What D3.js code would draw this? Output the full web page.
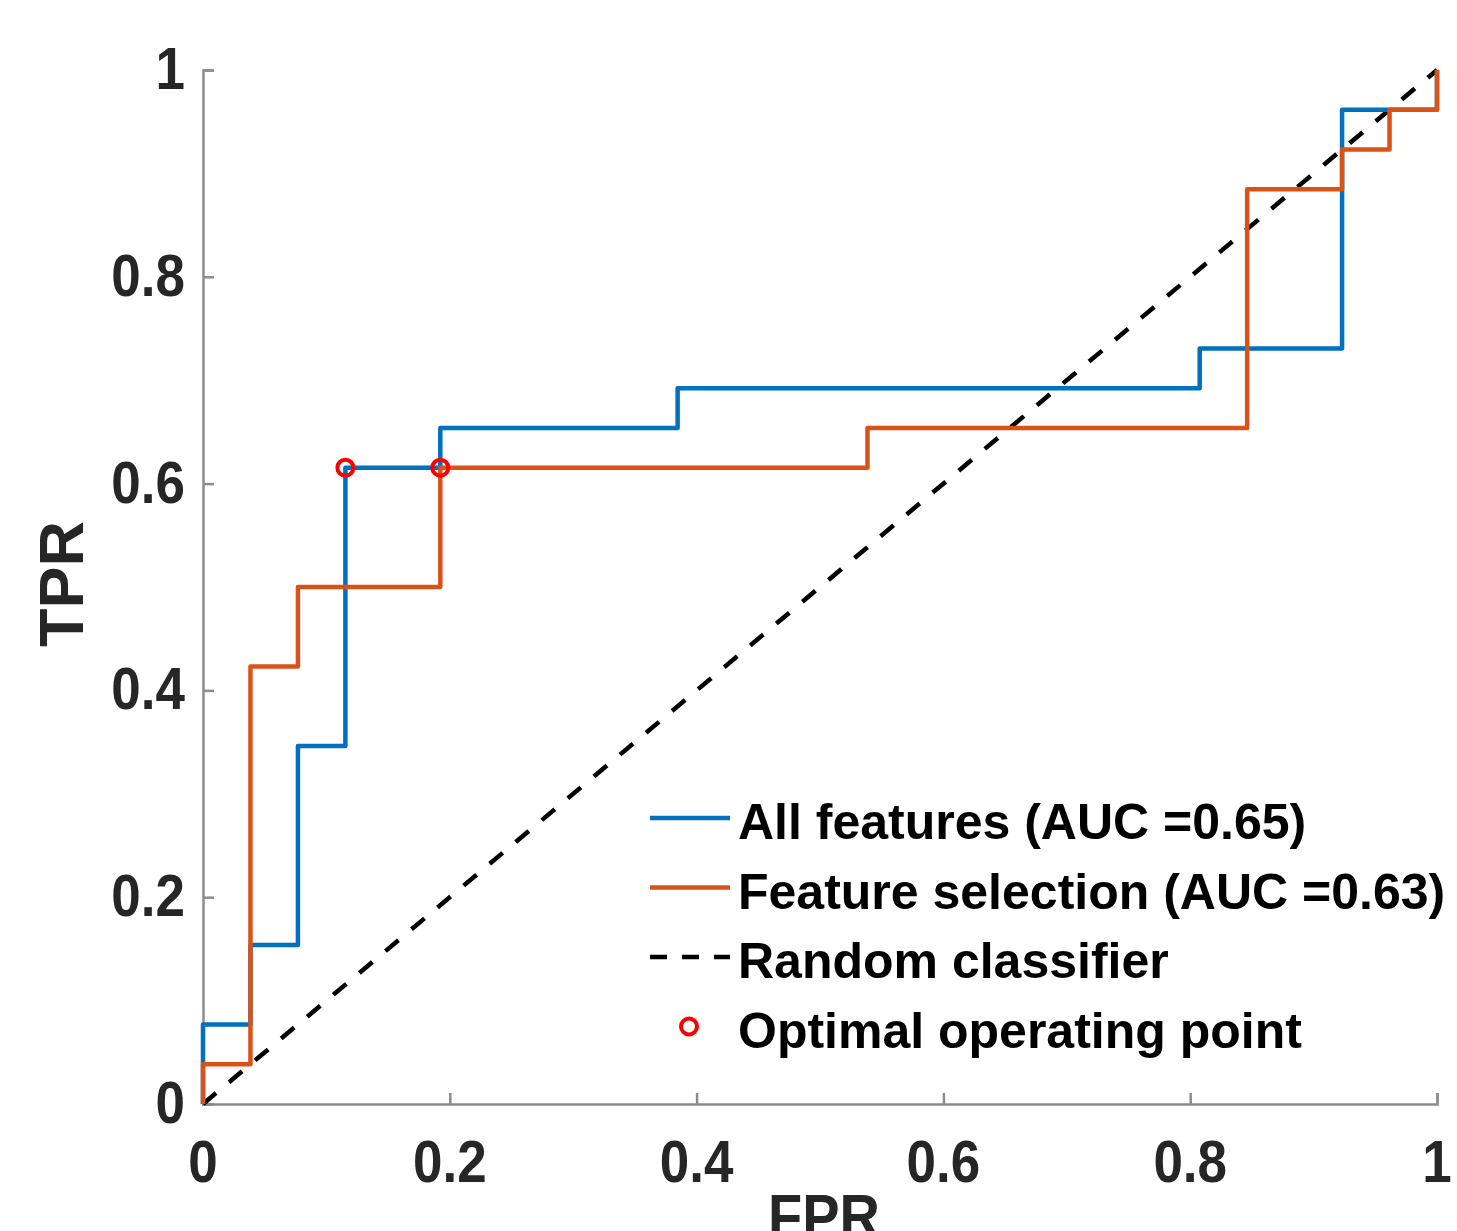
<!DOCTYPE html>
<html><head><meta charset="utf-8">
<script src="https://cdn.jsdelivr.net/npm/d3@7"></script>
<style>html,body{margin:0;padding:0;background:#fff;}svg{display:block;font-family:"Liberation Sans",Arial,sans-serif;font-weight:bold;}</style>
</head><body><svg id="c" width="1457" height="1231"></svg>
<script>
const N = 26;
// ROC step vertices in units of 1/26 (FPR, TPR)
const allFeatFPR = [0,0,1,1,2,2,3,3,5,5,10,10,21,21,24,24,26,26];
const allFeatTPR = [0,2,2,4,4,9,9,16,16,17,17,18,18,19,19,25,25,26];
const selFPR = [0,0,1,1,2,2,5,5,14,14,22,22,24,24,25,25,26,26];
const selTPR = [0,1,1,11,11,13,13,16,16,17,17,23,23,24,24,25,25,26];
const optFPR = [3,5];
const optTPR = [16,16];
const xTicks = [0,0.2,0.4,0.6,0.8,1];
const yTicks = [0,0.2,0.4,0.6,0.8,1];
const tickLabels = ["0","0.2","0.4","0.6","0.8","1"];
const legendLabels = ["All features (AUC =0.65)","Feature selection (AUC =0.63)","Random classifier","Optimal operating point"];

const svg = d3.select("#c");
const x = d3.scaleLinear().domain([0,1]).range([203,1437]);
const y = d3.scaleLinear().domain([0,1]).range([1104,70]);
const axisCol = "#8c8c8c", txtCol = "#262626";

// axes
const gx = svg.append("g").attr("transform","translate(0,1104)")
  .call(d3.axisBottom(x).tickValues(xTicks).tickSize(-11).tickFormat(""));
const gy = svg.append("g").attr("transform","translate(203,0)")
  .call(d3.axisLeft(y).tickValues(yTicks).tickSize(-11).tickFormat(""));
[gx,gy].forEach(g=>{g.selectAll("path,line").attr("stroke",axisCol).attr("stroke-width",2.5);});

xTicks.forEach((t,i)=>{
  svg.append("text").attr("transform",`translate(${x(t)},1182) scale(1,1.12)`)
    .attr("text-anchor","middle").attr("font-size",53).attr("fill",txtCol).text(tickLabels[i]);
});
yTicks.forEach((t,i)=>{
  svg.append("text").attr("transform",`translate(185,${y(t)+19}) scale(1,1.12)`)
    .attr("text-anchor","end").attr("font-size",53).attr("fill",txtCol).text(tickLabels[i]);
});
svg.append("text").attr("transform","translate(824,1238) scale(1,1.12)").attr("text-anchor","middle")
  .attr("font-size",56).attr("fill",txtCol).text("FPR");
svg.append("text").attr("transform","translate(83,584) rotate(-90)").attr("text-anchor","middle")
  .attr("font-size",63).attr("fill",txtCol).text("TPR");

const line = d3.line().x(d=>x(d[0]/N)).y(d=>y(d[1]/N));
// random classifier
svg.append("path").attr("d",d3.line()([[x(0),y(0)],[x(1),y(1)]]))
  .attr("stroke","#000").attr("stroke-width",4.5).attr("stroke-dasharray","17,17").attr("fill","none");
svg.append("path").attr("d",line(allFeatFPR.map((v,i)=>[v,allFeatTPR[i]])))
  .attr("stroke","#0072BD").attr("stroke-width",4.5).attr("fill","none").attr("stroke-linejoin","round");
svg.append("path").attr("d",line(selFPR.map((v,i)=>[v,selTPR[i]])))
  .attr("stroke","#D95319").attr("stroke-width",4.5).attr("fill","none").attr("stroke-linejoin","round");
optFPR.forEach((v,i)=>{
  svg.append("circle").attr("cx",x(v/N)).attr("cy",y(optTPR[i]/N)).attr("r",8)
    .attr("fill","none").attr("stroke","#FF0000").attr("stroke-width",4);
});

// legend
const ly0 = 818, ldy = 69.5;
const lg = svg.append("g");
lg.append("line").attr("x1",650).attr("x2",730).attr("y1",ly0).attr("y2",ly0).attr("stroke","#0072BD").attr("stroke-width",4.5);
lg.append("line").attr("x1",650).attr("x2",730).attr("y1",ly0+ldy).attr("y2",ly0+ldy).attr("stroke","#D95319").attr("stroke-width",4.5);
lg.append("line").attr("x1",650).attr("x2",730).attr("y1",ly0+2*ldy).attr("y2",ly0+2*ldy).attr("stroke","#000").attr("stroke-width",4.5).attr("stroke-dasharray","17,15");
lg.append("circle").attr("cx",689).attr("cy",ly0+3*ldy).attr("r",8).attr("fill","none").attr("stroke","#FF0000").attr("stroke-width",4);
legendLabels.forEach((t,i)=>{
  lg.append("text").attr("x",738).attr("y",ly0+i*ldy+21).attr("font-size",50).attr("fill","#000").text(t);
});
</script></body></html>
